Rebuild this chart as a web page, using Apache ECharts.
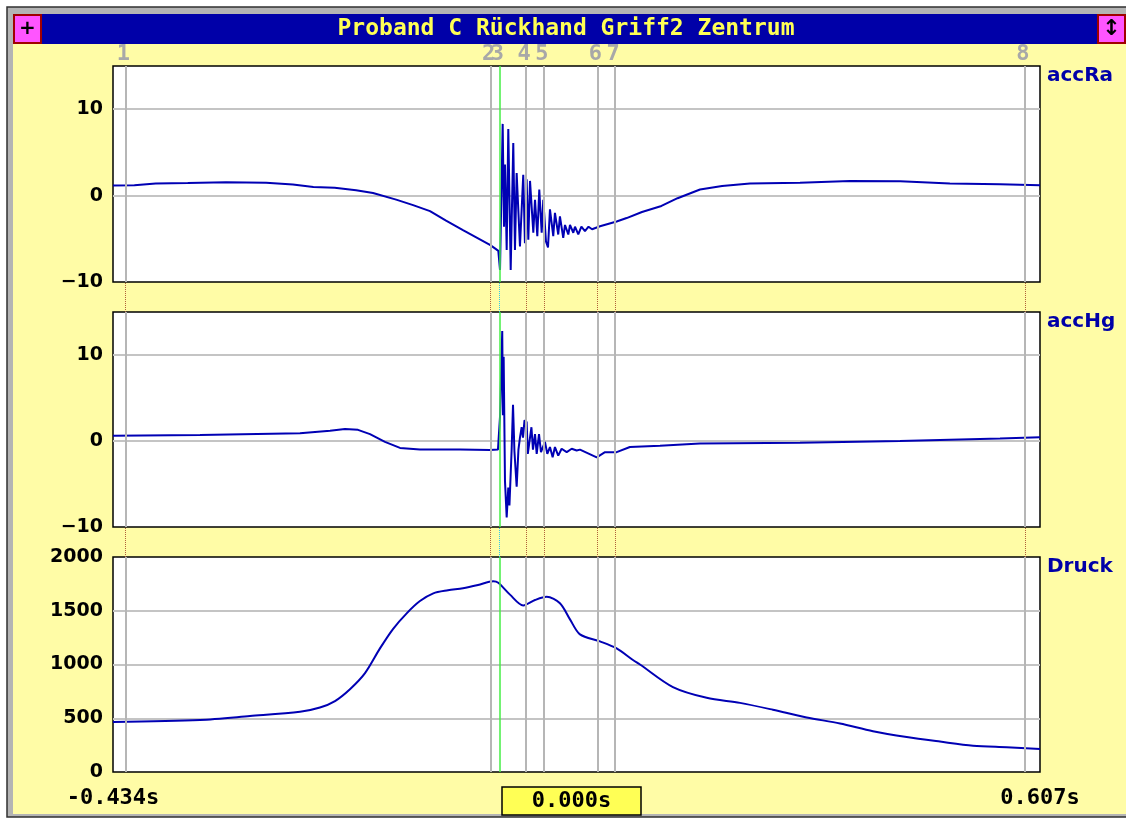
<!DOCTYPE html>
<html>
<head>
<meta charset="utf-8">
<title>Proband C Rückhand Griff2 Zentrum</title>
<script src="https://cdn.jsdelivr.net/npm/echarts@6/dist/echarts.min.js"></script>
<style>
  html, body { margin: 0; padding: 0; background: #fff; }
  #main { width: 1126px; height: 818px; }
</style>
</head>
<body>
<div id="main"></div>
<script>
// time axis (s)
const tMin = -0.434;
const tMax = 0.607;

// markers 1..8 (gray lines, 3 = green cursor at 0)
const markerNames = ['1', '2', '3', '4', '5', '6', '7', '8'];
const markerTimes = [-0.4217, -0.007, 0, 0.0267, 0.0522, 0.1136, 0.1316, 0.5917];

// accRa
const accRaT = [-0.434, -0.41, -0.386, -0.35, -0.307, -0.262, -0.232, -0.209, -0.185, -0.161, -0.142, -0.116, -0.097, -0.078, -0.06, -0.041, -0.0107, -0.0039, -0.0013,
  0.0006, 0.0025, 0.0036, 0.0051, 0.0062, 0.0081, 0.0099, 0.0126, 0.0155, 0.0174, 0.0193, 0.023, 0.0267, 0.0286, 0.0305, 0.0324, 0.0343, 0.038, 0.0399, 0.0425,
  0.0447, 0.0474, 0.0492, 0.0522, 0.0545, 0.0567, 0.0604, 0.0623, 0.066, 0.0679, 0.0716, 0.0736, 0.0773, 0.0792, 0.0829, 0.0848, 0.0885, 0.092, 0.096, 0.1, 0.104,
  0.1129, 0.1316, 0.1428, 0.16, 0.1819, 0.2, 0.2252, 0.25, 0.2813, 0.3375, 0.3936, 0.45, 0.5058, 0.562, 0.607];
const accRaV = [1.16, 1.2, 1.4, 1.45, 1.55, 1.5, 1.28, 1.0, 0.9, 0.62, 0.3, -0.47, -1.1, -1.8, -2.9, -4.0, -5.7, -6.2, -6.4,
  -8.6, -8.8, 8.3, -3.6, 3.6, -6.3, 7.7, -8.6, 6.1, -6.3, 2.6, -5.9, 2.4, -5.5, 1.9, -5.1, 1.7, -4.3, -0.5, -4.7,
  0.7, -4.3, -0.5, -5.3, -6.0, -1.6, -4.7, -2.0, -4.5, -2.4, -4.9, -3.4, -4.5, -3.4, -4.3, -3.6, -4.5, -3.6, -4.1, -3.6, -3.9,
  -3.55, -3.0, -2.6, -1.9, -1.2, -0.3, 0.7, 1.1, 1.4, 1.5, 1.7, 1.65, 1.4, 1.3, 1.2];

// accHg
const accHgT = [-0.434, -0.3363, -0.224, -0.1903, -0.1735, -0.1589, -0.1454, -0.1286, -0.1117, -0.0893, -0.0443, -0.0107, -0.0017,
  0.0006, 0.0031, 0.0039, 0.0047, 0.0062, 0.0081, 0.0099, 0.0112, 0.0137, 0.0152, 0.0168, 0.0193, 0.0213, 0.023, 0.0249, 0.0264,
  0.0281, 0.0305, 0.0318, 0.0335, 0.0359, 0.0376, 0.0399, 0.0418, 0.0444, 0.0466, 0.0511, 0.0537, 0.0567, 0.0597, 0.0623, 0.066,
  0.0698, 0.0755, 0.0811, 0.0867, 0.0904, 0.1092, 0.1185, 0.1316, 0.1465, 0.1802, 0.2252, 0.3375, 0.4498, 0.5621, 0.607];
const accHgV = [0.6, 0.7, 0.9, 1.2, 1.4, 1.3, 0.8, -0.1, -0.8, -1.0, -1.0, -1.06, -1.0,
  2.8, 12.8, 3.0, 9.8, -4.7, -8.9, -5.4, -7.5, -0.9, 4.2, -1.2, -5.3, -1.0, 0.4, 1.6, 0.4,
  2.4, 2.2, -1.5, -1.5, 1.6, -1.0, 0.8, -1.5, 0.8, -1.3, -0.1, -1.5, -0.7, -1.9, -0.7, -1.7,
  -0.9, -1.3, -0.9, -1.1, -1.0, -1.9, -1.3, -1.3, -0.7, -0.55, -0.3, -0.2, 0.0, 0.3, 0.45];

// Druck
const druckT = [-0.434, -0.3363, -0.2802, -0.224, -0.2016, -0.1847, -0.1679, -0.151, -0.1342, -0.1196, -0.1042, -0.0893, -0.0743, -0.0578,
  -0.041, -0.0241, -0.007, -0.0013, 0.0118, 0.0267, 0.0399, 0.053, 0.0679, 0.0792, 0.0904, 0.1129, 0.1316, 0.1499, 0.1578,
  0.1948, 0.2327, 0.2701, 0.3071, 0.345, 0.3824, 0.4194, 0.4573, 0.4947, 0.5318, 0.5696, 0.607];
const druckV = [465, 484, 520, 560, 600, 660, 770, 920, 1150, 1330, 1476, 1590, 1662, 1690,
  1710, 1740, 1775, 1760, 1650, 1550, 1600, 1630, 1570, 1420, 1280, 1215, 1150, 1042, 1000,
  790, 690, 643, 579, 507, 452, 379, 325, 283, 245, 230, 214];

function zip(t, v) {
  return t.map((x, i) => [x, v[i]]);
}

const monoFont = 'DejaVu Sans Mono';
const lineBlue = '#0000b4';

// marker lines in plot panels
function panelMarks(withLabel) {
  return {
    symbol: ['none', 'none'],
    silent: true,
    animation: false,
    label: {
      show: withLabel,
      position: 'end',
      formatter: '{b}',
      distance: 1,
      offset: [-2, 0],
      color: '#a8a8a8',
      fontFamily: monoFont,
      fontWeight: 'bold',
      fontSize: 22
    },
    data: markerTimes.map((t, i) => ({
      xAxis: t,
      name: markerNames[i],
      lineStyle: {
        type: 'solid',
        color: i === 2 ? '#44ee44' : '#b6b6b6',
        width: i === 2 ? 1.5 : 2
      }
    }))
  };
}

// dotted marker lines in the yellow gaps
function gapMarks() {
  return {
    symbol: ['none', 'none'],
    silent: true,
    animation: false,
    label: { show: false },
    data: markerTimes.map((t, i) => ({
      xAxis: t,
      lineStyle: {
        type: 'dotted',
        color: i === 2 ? '#30c8e8' : '#b0603a',
        width: 1
      }
    }))
  };
}

function xAx(idx, showLabel) {
  return {
    type: 'value',
    gridIndex: idx,
    min: tMin,
    max: tMax,
    axisLine: { show: false },
    axisTick: { show: false },
    splitLine: { show: false },
    axisLabel: {
      show: showLabel,
      margin: 15,
      color: '#000',
      fontFamily: monoFont,
      fontWeight: 'bold',
      fontSize: 22,
      formatter: function (v) {
        if (Math.abs(v - tMin) < 1e-9 || Math.abs(v - tMax) < 1e-9) return v.toFixed(3) + 's';
        return '';
      }
    }
  };
}

function yAx(idx, min, max, interval) {
  return {
    type: 'value',
    gridIndex: idx,
    min: min,
    max: max,
    interval: interval,
    axisLine: { show: false },
    axisTick: { show: false },
    splitLine: { show: true, showMinLine: false, showMaxLine: false, lineStyle: { color: '#c4c4c4', width: 2 } },
    axisLabel: {
      margin: 10,
      color: '#000',
      fontFamily: 'DejaVu Sans',
      fontWeight: 'bold',
      fontSize: 19,
      formatter: function (v) {
        if (v > max - 1e-9 && (max - min) % interval !== 0) return '';
        return v < 0 ? '\u2212' + Math.abs(v) : String(v);
      }
    }
  };
}

function hiddenY(idx) {
  return { type: 'value', gridIndex: idx, min: 0, max: 1, show: false };
}

const panelGrid = { left: 113, width: 927, show: true, backgroundColor: '#fff', borderColor: '#000', borderWidth: 1.5 };

const chart = echarts.init(document.getElementById('main'), null, { renderer: 'canvas' });

chart.setOption({
  animation: false,
  backgroundColor: '#fff',
  grid: [
    Object.assign({ top: 66, height: 216 }, panelGrid),
    Object.assign({ top: 312, height: 215 }, panelGrid),
    Object.assign({ top: 557, height: 215 }, panelGrid),
    { left: 113, width: 927, top: 282, height: 30, show: false },
    { left: 113, width: 927, top: 527, height: 30, show: false }
  ],
  xAxis: [xAx(0, false), xAx(1, false), xAx(2, true), xAx(3, false), xAx(4, false)],
  yAxis: [yAx(0, -10, 15, 10), yAx(1, -10, 15, 10), yAx(2, 0, 2000, 500), hiddenY(3), hiddenY(4)],
  series: [
    {
      name: 'accRa', type: 'line', xAxisIndex: 0, yAxisIndex: 0,
      data: zip(accRaT, accRaV), showSymbol: false, symbol: 'none',
      lineStyle: { color: lineBlue, width: 2 },
      markLine: panelMarks(true)
    },
    {
      name: 'accHg', type: 'line', xAxisIndex: 1, yAxisIndex: 1,
      data: zip(accHgT, accHgV), showSymbol: false, symbol: 'none',
      lineStyle: { color: lineBlue, width: 2 },
      markLine: panelMarks(false)
    },
    {
      name: 'Druck', type: 'line', xAxisIndex: 2, yAxisIndex: 2,
      data: zip(druckT, druckV), showSymbol: false, symbol: 'none', smooth: 0.3,
      lineStyle: { color: lineBlue, width: 2 },
      markLine: panelMarks(false)
    },
    { type: 'line', xAxisIndex: 3, yAxisIndex: 3, data: [], markLine: gapMarks() },
    { type: 'line', xAxisIndex: 4, yAxisIndex: 4, data: [], markLine: gapMarks() }
  ],
  graphic: [
    // window frame
    { type: 'rect', z: -10, shape: { x: 7, y: 7, width: 1125, height: 810 }, style: { fill: '#b4b4b4', stroke: '#303030', lineWidth: 1.5 } },
    { type: 'rect', z: -9, shape: { x: 13, y: 44, width: 1113, height: 770 }, style: { fill: '#fffca6' } },
    { type: 'rect', z: -9, shape: { x: 13, y: 14, width: 1113, height: 30 }, style: { fill: '#0000a8' } },
    { type: 'text', z: 5, style: { x: 566, y: 29, text: 'Proband C Rückhand Griff2 Zentrum', fill: '#ffff55', font: 'bold 23px "DejaVu Sans Mono"', textAlign: 'center', textVerticalAlign: 'middle' } },
    // buttons
    { type: 'rect', z: 5, shape: { x: 14, y: 15, width: 27, height: 28 }, style: { fill: '#ff55ff', stroke: '#a00000', lineWidth: 2 } },
    { type: 'text', z: 6, style: { x: 27.5, y: 29, text: '+', fill: '#000', font: 'bold 20px "DejaVu Sans"', textAlign: 'center', textVerticalAlign: 'middle' } },
    { type: 'rect', z: 5, shape: { x: 1098, y: 15, width: 27, height: 28 }, style: { fill: '#ff55ff', stroke: '#a00000', lineWidth: 2 } },
    { type: 'text', z: 6, style: { x: 1111.5, y: 29, text: '\u2195', fill: '#000', font: 'bold 22px "DejaVu Sans"', textAlign: 'center', textVerticalAlign: 'middle' } },
    // channel names
    { type: 'text', z: 5, style: { x: 1047, y: 76, text: 'accRa', fill: '#0000a8', font: 'bold 20px "DejaVu Sans"', textVerticalAlign: 'middle' } },
    { type: 'text', z: 5, style: { x: 1047, y: 322, text: 'accHg', fill: '#0000a8', font: 'bold 20px "DejaVu Sans"', textVerticalAlign: 'middle' } },
    { type: 'text', z: 5, style: { x: 1047, y: 567, text: 'Druck', fill: '#0000a8', font: 'bold 20px "DejaVu Sans"', textVerticalAlign: 'middle' } },
    // cursor time box
    { type: 'rect', z: 5, shape: { x: 502, y: 787, width: 139, height: 28 }, style: { fill: '#ffff55', stroke: '#000', lineWidth: 1.5 } },
    { type: 'text', z: 6, style: { x: 571.5, y: 801, text: '0.000s', fill: '#000', font: 'bold 22px "DejaVu Sans Mono"', textAlign: 'center', textVerticalAlign: 'middle' } }
  ]
});
</script>
</body>
</html>
